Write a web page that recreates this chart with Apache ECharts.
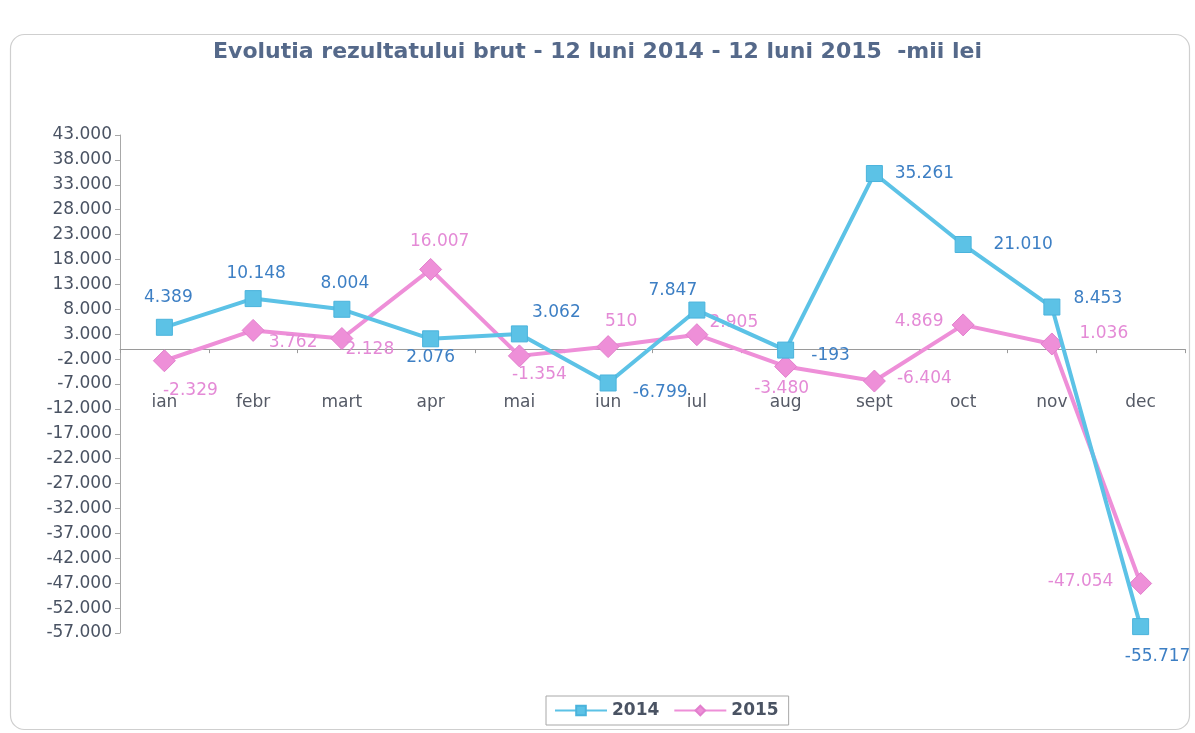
<!DOCTYPE html>
<html>
<head>
<meta charset="utf-8">
<script src="https://cdn.jsdelivr.net/npm/echarts@6/dist/echarts.min.js"></script>
<style>
html,body{margin:0;padding:0;background:#fff;}
#chart{width:1195px;height:733px;}
</style>
</head>
<body>
<div id="chart"></div>
<script>
const titleText = 'Evolutia rezultatului brut - 12 luni 2014 - 12 luni 2015  -mii lei';
const months = ['ian','febr','mart','apr','mai','iun','iul','aug','sept','oct','nov','dec'];
const values2014 = [4389, 10148, 8004, 2076, 3062, -6799, 7847, -193, 35261, 21010, 8453, -55717];
const values2015 = [-2329, 3762, 2128, 16007, -1354, 510, 2905, -3480, -6404, 4869, 1036, -47054];
const yTicks = [43000, 38000, 33000, 28000, 23000, 18000, 13000, 8000, 3000, -2000, -7000, -12000, -17000, -22000, -27000, -32000, -37000, -42000, -47000, -52000, -57000];

// label placement (style only): offsets from marker centre
const labelOffsets2014 = [[4,-30],[3,-25],[3,-26],[0,19],[37,-21],[52,10],[-24,-19],[45,5],[50,0],[60,0],[46,-8],[17,30]];
const labelOffsets2015 = [[26,30],[40,12],[28,11],[9,-28],[20,19],[13,-25],[37,-12],[-4,22],[50,-2],[-44,-3],[52,-10],[-60,-2]];

const Y_MIN = -57000, Y_MAX = 43000;
const GRID_TOP = 135, GRID_BOTTOM = 100, H = 733;
const FONT = 'DejaVu Sans, Verdana, sans-serif';

function fmt(v){
  const s = Math.abs(Math.round(v)).toString().replace(/\B(?=(\d{3})+(?!\d))/g, '.');
  return (v < 0 ? '-' : '') + s;
}

function buildData(vals, offsets, color){
  return vals.map((v,i)=>({
    value: v,
    label: {show:true, position:'inside', offset: offsets[i], color: color, fontSize:17,
            fontFamily:FONT, formatter: p => fmt(p.value)}
  }));
}

// move the category axis (line, ticks, labels) up to the zero value
const gridH = H - GRID_TOP - GRID_BOTTOM;
const zeroFromBottom = gridH * (0 - Y_MIN) / (Y_MAX - Y_MIN);

const chart = echarts.init(document.getElementById('chart'), null, {renderer:'canvas'});
chart.setOption({
  backgroundColor:'#ffffff',
  animation:false,
  title:{
    text:titleText, left:'center', top:36,
    textStyle:{fontFamily:FONT, fontSize:22, fontWeight:'bold', color:'#55698a'}
  },
  graphic:[{
    type:'rect', left:8, top:32, shape:{width:1179, height:695, r:14},
    style:{fill:'none', stroke:'#cfcfcf', lineWidth:1.2}, silent:true, z:-1
  }],
  legend:{
    bottom:8, left:546,
    data:['2014','2015'],
    itemWidth:52, itemHeight:12, itemGap:14,
    borderColor:'#a8a8a8', borderWidth:1, padding:[6,10,6,8],
    textStyle:{fontFamily:FONT, fontSize:17, fontWeight:'bold', color:'#4a5363'}
  },
  grid:{left:120, right:10, top:GRID_TOP, bottom:GRID_BOTTOM, containLabel:false},
  xAxis:{
    type:'category', data:months, boundaryGap:true,
    offset: -zeroFromBottom,
    axisLine:{onZero:false, lineStyle:{color:'#9a9a9a', width:1}},
    axisTick:{show:true, length:4, lineStyle:{color:'#9a9a9a'}},
    axisLabel:{margin:45, fontSize:17, color:'#555a66', fontFamily:FONT},
    splitLine:{show:false}
  },
  yAxis:{
    type:'value', min:Y_MIN, max:Y_MAX, interval:1000,
    axisLine:{show:true, lineStyle:{color:'#a8a8a8', width:1}},
    axisTick:{show:true, length:5, customValues:yTicks, lineStyle:{color:'#a8a8a8'}},
    axisLabel:{customValues:yTicks, fontSize:17, color:'#4a5363', margin:8,
               fontFamily:FONT, formatter: v => fmt(v)},
    splitLine:{show:false}
  },
  series:[
    {
      name:'2014', type:'line', data:buildData(values2014, labelOffsets2014, '#3d7fc4'),
      symbol:'rect', symbolSize:16,
      lineStyle:{color:'#5cc2e6', width:4},
      itemStyle:{color:'#5cc2e6', borderColor:'#4ab3dc', borderWidth:1},
      z:3
    },
    {
      name:'2015', type:'line', data:buildData(values2015, labelOffsets2015, '#e48ad6'),
      symbol:'diamond', symbolSize:[22,22],
      lineStyle:{color:'#ee8fd8', width:4},
      itemStyle:{color:'#ee8fd8', borderColor:'#e27fcd', borderWidth:1},
      z:2
    }
  ]
});
</script>
</body>
</html>
